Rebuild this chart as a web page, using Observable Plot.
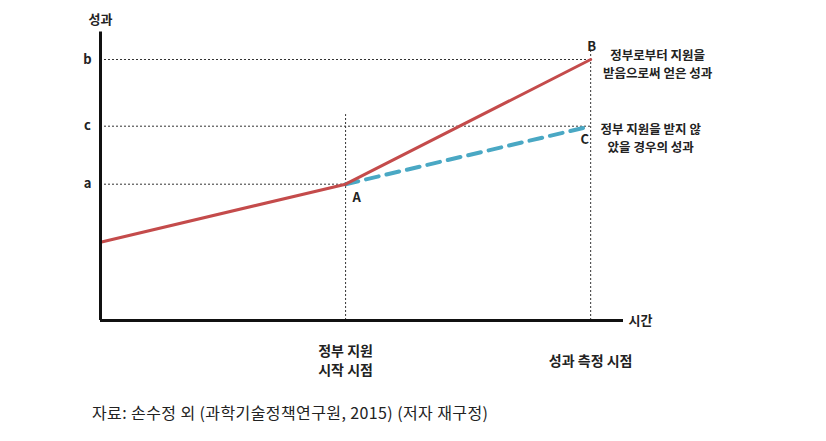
<!DOCTYPE html>
<html><head><meta charset="utf-8">
<script src="https://cdn.jsdelivr.net/npm/d3@7"></script>
<script src="https://cdn.jsdelivr.net/npm/@observablehq/plot@0.6"></script>
<style>
body{margin:0;background:#fff;font-family:"Noto Sans CJK KR","Noto Sans",sans-serif;}
#cap{position:absolute;left:92px;top:400px;font-size:16px;letter-spacing:0.4px;color:#222;font-family:"Noto Sans CJK KR",sans-serif;}
</style></head><body>
<div id="chart"></div>
<div id="cap">자료: 손수정 외 (과학기술정책연구원, 2015) (저자 재구정)</div>
<script>
// time points
const times = [0, 5, 10];
const timeLabels = ["", "정부 지원\n시작 시점", "성과 측정 시점"];
// performance values
const withSupport = [2.7, 4.7, 9.0];
const withoutSupport = [null, 4.7, 6.7];
const yTickValues = [4.7, 6.7, 9.0];
const yTickLabels = ["a", "c", "b"];
const pointNames = ["", "A", "B", "C"];
const rightNotes = ["정부로부터 지원을\n받음으로써 얻은 성과", "정부 지원을 받지 않\n았을 경우의 성과"];

const red = times.map((t, i) => ({t, v: withSupport[i]}));
const blue = times.map((t, i) => ({t, v: withoutSupport[i]})).filter(d => d.v != null);
const font = "Noto Sans CJK KR";
const dot = {stroke: "#333", strokeWidth: 1, strokeDasharray: "2,2"};

const chart = Plot.plot({
  width: 826, height: 392,
  marginLeft: 100, marginRight: 203, marginTop: 30, marginBottom: 72,
  x: {domain: [0, 10.67], axis: null},
  y: {domain: [0, 10], axis: null},
  style: {fontFamily: font, background: "white"},
  marks: [
    // dotted reference lines
    Plot.ruleY([{v: withSupport[2]}], {y: "v", x1: 0, x2: times[2], ...dot}),
    Plot.ruleY([{v: withoutSupport[2]}], {y: "v", x1: 0, x2: times[2], ...dot}),
    Plot.ruleY([{v: withSupport[1]}], {y: "v", x1: 0, x2: times[1], ...dot}),
    Plot.ruleX([times[1]], {y1: 0, y2: 7.1, ...dot}),
    Plot.ruleX([times[2]], {y1: 0, y2: 9.3, ...dot}),
    // lines
    Plot.line(blue, {x: "t", y: "v", stroke: "#4aa8c4", strokeWidth: 4, strokeDasharray: "13,8"}),
    Plot.line(red, {x: "t", y: "v", stroke: "#c44b4b", strokeWidth: 3}),
    // axes
    Plot.ruleX([0], {y1: 0, y2: 9.95, stroke: "#111", strokeWidth: 3}),
    Plot.ruleY([0], {x1: 0, x2: 10.67, stroke: "#111", strokeWidth: 3}),
    Plot.text(yTickValues, {x: 0, y: d => d, text: (d, i) => yTickLabels[i], dx: -13, fontSize: 13, fontWeight: "bold", fill: "#222"}),
    Plot.text(["성과"], {x: 0, y: 10, dy: -11, text: d => d, fontSize: 13, fontWeight: "bold", fill: "#222"}),
    Plot.text(["시간"], {x: 10.67, y: 0, dx: 17, text: d => d, fontSize: 13, fontWeight: "bold", fill: "#222"}),
    // point labels
    Plot.text([{t: times[1], v: withSupport[1], s: pointNames[1]}], {x: "t", y: "v", text: "s", dx: 11, dy: 14, fontSize: 13, fontWeight: "bold", fill: "#222"}),
    Plot.text([{t: times[2], v: withSupport[2], s: pointNames[2]}], {x: "t", y: "v", text: "s", dx: 1, dy: -13, fontSize: 13, fontWeight: "bold", fill: "#222"}),
    Plot.text([{t: times[2], v: withoutSupport[2], s: pointNames[3]}], {x: "t", y: "v", text: "s", dx: -6, dy: 14, fontSize: 13, fontWeight: "bold", fill: "#222"}),
    // right notes
    Plot.text([{t: times[2], v: withSupport[2]}], {x: "t", y: "v", text: () => rightNotes[0], dx: 67, dy: 4, fontSize: 12.5, fontWeight: "bold", fill: "#222", lineHeight: 1.45}),
    Plot.text([{t: times[2], v: withoutSupport[2]}], {x: "t", y: "v", text: () => rightNotes[1], dx: 60, dy: 11, fontSize: 12.5, fontWeight: "bold", fill: "#222", lineHeight: 1.45}),
    // bottom time labels
    Plot.text(times.slice(1), {x: d => d, y: 0, text: (d, i) => timeLabels[i + 1], dy: 39, fontSize: 14, fontWeight: "bold", fill: "#222", lineHeight: 1.35})
  ]
});
document.getElementById("chart").appendChild(chart);
</script>
</body></html>
